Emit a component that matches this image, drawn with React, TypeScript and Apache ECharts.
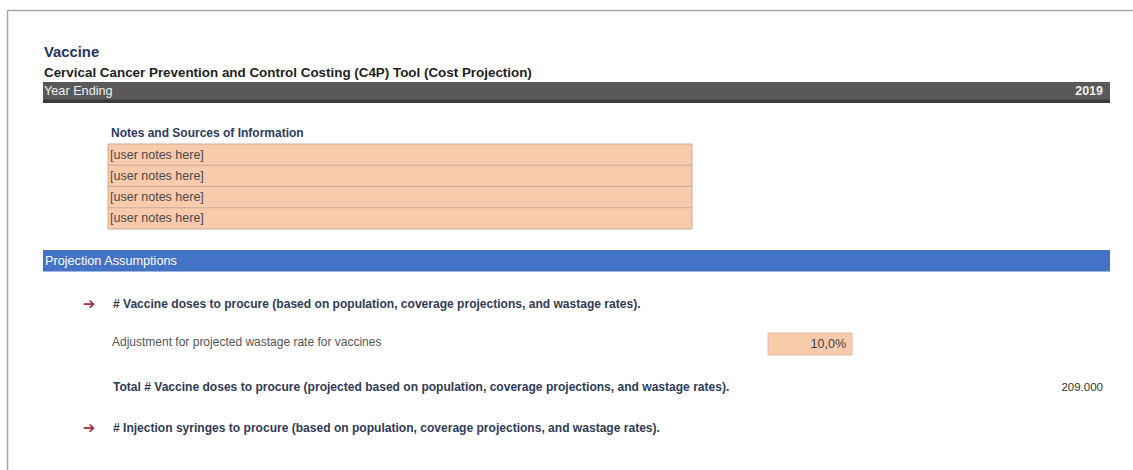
import React, { useEffect, useRef } from "react";
import * as echarts from "echarts";

const titleText = "Vaccine";
const subtitleText = "Cervical Cancer Prevention and Control Costing (C4P) Tool (Cost Projection)";
const yearLabel = "Year Ending";
const yearValue = 2019;
const notesTitle = "Notes and Sources of Information";
const noteRows = ["[user notes here]", "[user notes here]", "[user notes here]", "[user notes here]"];
const sectionTitle = "Projection Assumptions";
const itemLabels = [
  "# Vaccine doses to procure (based on population, coverage projections, and wastage rates).",
  "Adjustment for projected wastage rate for vaccines",
  "Total # Vaccine doses to procure (projected based on population, coverage projections, and wastage rates).",
  "# Injection syringes to procure (based on population, coverage projections, and wastage rates).",
];
const wastageRate = 10.0;
const totalDoses = 209000;

const FONT = "'Liberation Sans', Arial, sans-serif";

function fmtThousands(n: number) {
  return String(Math.round(n)).replace(/\B(?=(\d{3})+(?!\d))/g, ".");
}
function fmtPct(n: number) {
  return n.toFixed(1).replace(".", ",") + "%";
}

export default function App() {
  const ref = useRef<HTMLDivElement>(null);
  useEffect(() => {
    if (!ref.current) return;
    const chart = echarts.init(ref.current, null, { renderer: "svg" });
    const txt = (x: number, y: number, text: string, font: string, fill: string, align = "left") => ({
      type: "text",
      x,
      y,
      style: { text, font, fill, align, verticalAlign: "middle" },
    });
    const elements: any[] = [];
    // frame
    elements.push({ type: "line", shape: { x1: 8, y1: 10.5, x2: 1133, y2: 10.5 }, style: { stroke: "#a8a8a8", lineWidth: 1.5 } });
    elements.push({ type: "line", shape: { x1: 7.5, y1: 10, x2: 7.5, y2: 470 }, style: { stroke: "#a8a8a8", lineWidth: 1.5 } });
    // titles
    elements.push(txt(44, 52, titleText, `bold 14.8px ${FONT}`, "#1f3463"));
    elements.push(txt(44, 72, subtitleText, `bold 13.4px ${FONT}`, "#1e1e1e"));
    // year bar
    elements.push({ type: "rect", shape: { x: 43, y: 82, width: 1067, height: 21 }, style: { fill: "#595959" } });
    elements.push({ type: "rect", shape: { x: 43, y: 99.5, width: 1067, height: 3.5 }, style: { fill: "#3c3c3c" } });
    elements.push(txt(44, 91, yearLabel, `12.7px ${FONT}`, "#f2f2f2"));
    elements.push(txt(1103, 91, String(yearValue), `bold 12.5px ${FONT}`, "#eeeeee", "right"));
    // notes
    elements.push(txt(111, 133, notesTitle, `bold 12px ${FONT}`, "#2e3a60"));
    const boxTop = 144;
    const rowH = 21.25;
    elements.push({
      type: "rect",
      shape: { x: 108, y: boxTop, width: 584, height: rowH * noteRows.length },
      style: { fill: "#f8cbad", stroke: "#c9ad9a", lineWidth: 1 },
    });
    noteRows.forEach((r, i) => {
      if (i > 0) {
        elements.push({
          type: "line",
          shape: { x1: 108, y1: boxTop + rowH * i, x2: 692, y2: boxTop + rowH * i },
          style: { stroke: "#c9ad9a", lineWidth: 1.2 },
        });
      }
      elements.push(txt(110, boxTop + rowH * i + rowH / 2, r, `12.5px ${FONT}`, "#4a4a4a"));
    });
    // section bar
    elements.push({ type: "rect", shape: { x: 43, y: 250, width: 1067, height: 22 }, style: { fill: "#4472c4" } });
    elements.push({ type: "line", shape: { x1: 43, y1: 271.5, x2: 1110, y2: 271.5 }, style: { stroke: "#9fb6e0", lineWidth: 1 } });
    elements.push(txt(45, 260.5, sectionTitle, `12.7px ${FONT}`, "#ffffff"));
    // items
    const arrowFont = `bold 15px 'DejaVu Sans', sans-serif`;
    elements.push(txt(89, 304, "➔", arrowFont, "#a3304a", "center"));
    elements.push(txt(113, 304, itemLabels[0], `bold 12.05px ${FONT}`, "#2f3b57"));
    elements.push(txt(112, 342, itemLabels[1], `12px ${FONT}`, "#555555"));
    elements.push({
      type: "rect",
      shape: { x: 768, y: 333, width: 84, height: 22 },
      style: { fill: "#f8cbad", stroke: "#d8bca8", lineWidth: 1 },
    });
    elements.push(txt(846, 344, fmtPct(wastageRate), `12.5px ${FONT}`, "#3f3f3f", "right"));
    elements.push(txt(113, 386.5, itemLabels[2], `bold 12.05px ${FONT}`, "#2f3b57"));
    elements.push(txt(1103, 386.5, fmtThousands(totalDoses), `11.5px ${FONT}`, "#333333", "right"));
    elements.push(txt(89, 428, "➔", arrowFont, "#a3304a", "center"));
    elements.push(txt(113, 428, itemLabels[3], `bold 12.05px ${FONT}`, "#2f3b57"));

    chart.setOption({ animation: false, graphic: { elements } });
    return () => chart.dispose();
  }, []);
  return (
    <div
      ref={ref}
      style={{ position: "fixed", left: 0, top: 0, width: 1133, height: 470, background: "#ffffff" }}
    />
  );
}
